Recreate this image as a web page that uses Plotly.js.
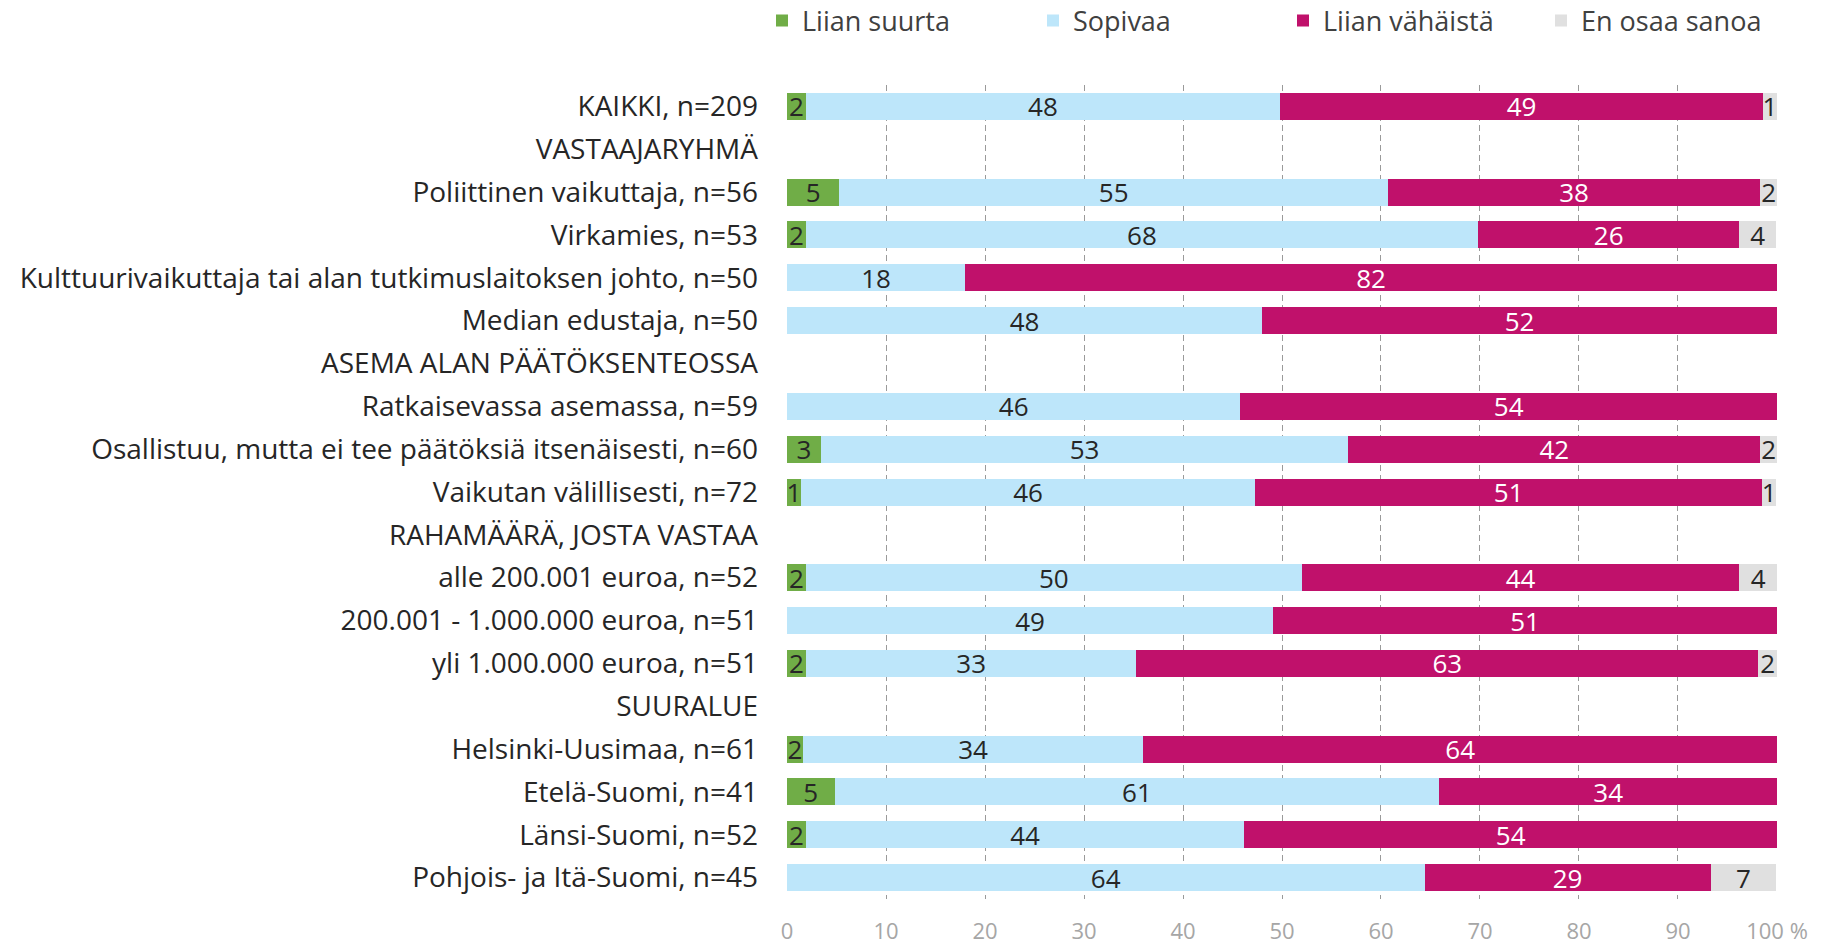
<!DOCTYPE html>
<html>
<head>
<meta charset="utf-8">
<script src="https://cdn.plot.ly/plotly-3.0.1.min.js"></script>
<style>
  html, body { margin: 0; padding: 0; background: #ffffff; }
  #chart { width: 1832px; height: 947px; }
</style>
</head>
<body>
<div id="chart"></div>
<script>
const categories = [
  "KAIKKI, n=209",
  "VASTAAJARYHMÄ",
  "Poliittinen vaikuttaja, n=56",
  "Virkamies, n=53",
  "Kulttuurivaikuttaja tai alan tutkimuslaitoksen johto, n=50",
  "Median edustaja, n=50",
  "ASEMA ALAN PÄÄTÖKSENTEOSSA",
  "Ratkaisevassa asemassa, n=59",
  "Osallistuu, mutta ei tee päätöksiä itsenäisesti, n=60",
  "Vaikutan välillisesti, n=72",
  "RAHAMÄÄRÄ, JOSTA VASTAA",
  "alle 200.001 euroa, n=52",
  "200.001 - 1.000.000 euroa, n=51",
  "yli 1.000.000 euroa, n=51",
  "SUURALUE",
  "Helsinki-Uusimaa, n=61",
  "Etelä-Suomi, n=41",
  "Länsi-Suomi, n=52",
  "Pohjois- ja Itä-Suomi, n=45"
];

const liianSuurta   = [1.9, null, 5.3, 1.9, null, null, null, null, 3.4, 1.4, null, 1.9, null, 1.9, null, 1.6, 4.8, 1.9, null];
const sopivaa       = [47.9, null, 55.4, 67.9, 18.0, 48.0, null, 45.8, 53.3, 45.9, null, 50.1, 49.1, 33.4, null, 34.4, 61.1, 44.3, 64.4];
const liianVahaista = [48.8, null, 37.6, 26.4, 82.0, 52.0, null, 54.2, 41.6, 51.2, null, 44.2, 50.9, 62.8, null, 64.0, 34.1, 53.8, 28.9];
const enOsaaSanoa   = [1.4, null, 1.7, 3.7, null, null, null, null, 1.7, 1.4, null, 3.8, null, 1.9, null, null, null, null, 6.6];

const seriesNames = ["Liian suurta", "Sopivaa", "Liian vähäistä", "En osaa sanoa"];
const tickVals = [0, 10, 20, 30, 40, 50, 60, 70, 80, 90, 100];
const tickText = ["0", "10", "20", "30", "40", "50", "60", "70", "80", "90", "100 %"];

const FONT = "'Open Sans', Lato, sans-serif";
const colors = ["#70AD47", "#BDE6FA", "#C0116B", "#E0E0E0"];
const textColors = ["#262626", "#262626", "#FFFFFF", "#262626"];
const seriesData = [liianSuurta, sopivaa, liianVahaista, enOsaaSanoa];
const legendIds = ["legend", "legend2", "legend3", "legend4"];
const legendLeftPx = [762, 1033, 1283, 1541];

const traces = seriesData.map((vals, i) => ({
  type: "bar",
  orientation: "h",
  name: seriesNames[i],
  legend: legendIds[i],
  y: categories,
  x: vals,
  marker: { color: colors[i], line: { width: 0 } },
  texttemplate: "%{x:.0f}",
  textposition: "inside",
  insidetextanchor: "middle",
  constraintext: "none",
  textangle: 0,
  insidetextfont: { family: FONT, size: 26, color: textColors[i] },
  hoverinfo: "skip",
  cliponaxis: false
}));

const layout = {
  width: 1832,
  height: 947,
  barmode: "stack",
  bargap: 0.37,
  paper_bgcolor: "#ffffff",
  plot_bgcolor: "#ffffff",
  margin: { l: 787, r: 55, t: 85, b: 48, autoexpand: false },
  font: { family: FONT, size: 26, color: "#404040" },
  showlegend: true,
  xaxis: {
    range: [0, 100.001],
    tickvals: tickVals,
    ticktext: tickText,
    showgrid: true,
    gridcolor: "#9A9A9A",
    gridwidth: 1,
    griddash: "6px,4px",
    zeroline: false,
    showline: false,
    ticks: "",
    ticklabelstandoff: 17,
    tickfont: { family: FONT, size: 22, color: "#A6A6A6" },
    fixedrange: true
  },
  yaxis: {
    type: "category",
    autorange: "reversed",
    showgrid: false,
    zeroline: false,
    showline: false,
    ticks: "",
    ticklabelstandoff: 28,
    tickfont: { family: FONT, size: 28, color: "#262626" },
    fixedrange: true
  }
};

legendIds.forEach((id, i) => {
  layout[id] = {
    orientation: "h",
    xref: "container",
    yref: "container",
    x: legendLeftPx[i] / 1832,
    xanchor: "left",
    y: 1 - 21 / 947,
    yanchor: "middle",
    font: { family: FONT, size: 27, color: "#404040" },
    itemwidth: 30,
    bgcolor: "rgba(0,0,0,0)"
  };
});

Plotly.newPlot("chart", traces, layout, { displayModeBar: false, staticPlot: true });
</script>
</body>
</html>
